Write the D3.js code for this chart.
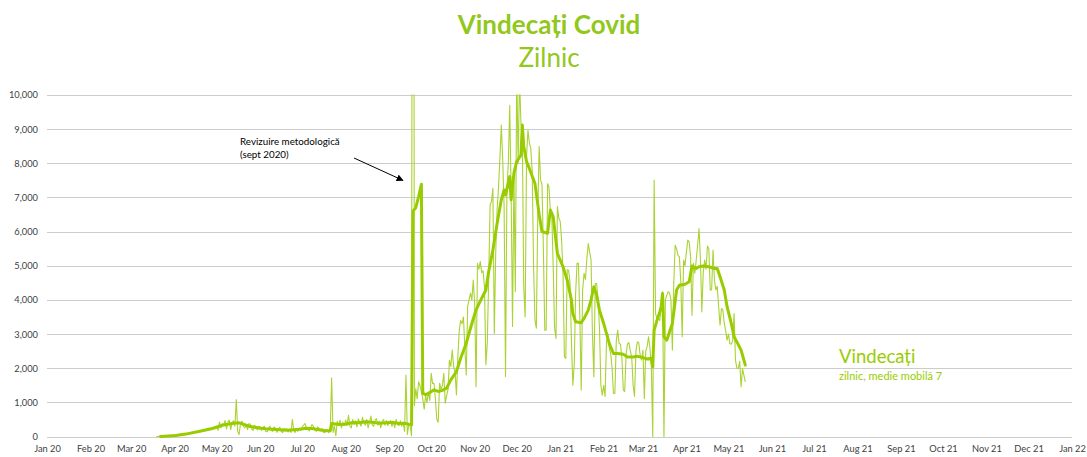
<!DOCTYPE html>
<html>
<head>
<meta charset="utf-8">
<script src="https://cdn.jsdelivr.net/npm/d3@7"></script>
<style>
  body { margin: 0; background: #fff; }
  svg { display: block; font-family: Lato, "Open Sans", sans-serif; }
</style>
</head>
<body>
<svg id="chart" width="1087" height="457"></svg>
<script>
// ---------------- DATA ----------------
const titleText = "Vindecați Covid";
const subtitleText = "Zilnic";
const legendTitle = "Vindecați";
const legendSubtitle = "zilnic, medie mobilă 7";
const noteLines = ["Revizuire metodologică", "(sept 2020)"];

// x axis: month ticks from Jan 20 to Jan 22
const axisStart = "2020-01-01";
const axisEnd = "2022-01-01";
// y axis ticks
const yTickValues = [0, 1000, 2000, 3000, 4000, 5000, 6000, 7000, 8000, 9000, 10000];

// daily recovered (thin line), one value per day starting at dailyStart
const dailyStart = "2020-03-19";
const dailyRecovered = [
  // Mar 20 (19-31)
  0,2,5,3,8,10,6,12,15,20,18,25,30,
  // Apr 20
  40,55,45,60,70,80,65,90,85,70,100,110,95,120,140,150,130,160,175,140,180,200,170,220,240,210,250,230,270,260,
  // May 20
  300,180,420,250,380,330,470,220,420,480,200,400,460,300,1080,150,60,380,450,300,250,340,200,380,350,220,180,330,280,200,300,
  // Jun 20
  280,180,260,300,150,140,250,300,180,150,280,240,120,220,270,160,110,240,200,230,130,210,120,500,170,120,230,150,250,180,
  // Jul 20
  280,330,380,250,230,160,260,350,300,200,150,280,240,160,230,130,110,200,180,110,190,1720,120,300,20,450,330,480,250,420,330,
  // Aug 20
  480,330,620,300,250,500,350,460,280,520,420,300,560,400,330,500,250,420,600,340,300,480,520,330,450,250,430,500,330,470,320,
  // Sep 20 (18 Sep: methodological revision, off the scale)
  400,460,300,430,260,500,350,320,460,300,420,150,1800,60,350,300,20,44000,900,1400,1100,1600,1500,1300,1100,800,1200,1000,1300,1050,
  // Oct 20
  1850,1550,1560,1100,500,420,1560,1370,1500,1850,975,1200,1370,2240,2050,2530,2050,1900,1220,2340,3100,3400,3300,3500,2600,1800,3800,4000,4200,4000,4580,
  // Nov 20
  3900,1460,5070,4900,5120,4800,4850,4390,2100,2730,4600,6780,6880,7270,3020,5370,6630,7300,8150,9120,8100,6730,1760,7220,8000,9700,7120,3220,7710,4240,
  // Dec 20
  10800,8000,10500,9170,8700,4400,3510,8200,8970,8600,8440,7800,5000,3400,3170,6500,8490,7500,7400,5500,3115,3120,7400,7300,6600,6500,4980,3170,2870,6730,6400,
  // Jan 21
  6300,5760,4800,2340,2290,4880,4870,4500,2800,1500,2090,4200,5070,5070,3500,1360,4290,4780,4600,5200,5650,5400,5170,3000,1750,4480,4480,3990,3200,1500,1210,
  // Feb 21
  1500,1170,2770,3000,2600,2430,2000,1260,1270,2800,3115,2720,2700,2300,1360,1320,2400,2720,2750,2500,2330,1500,1170,2500,2770,2750,2400,2240,
  // Mar 21
  2530,1110,2500,2630,2920,2600,2040,0,7510,3600,3460,3460,3400,3800,4240,0,4000,4140,4240,4200,4000,2530,4500,5600,5500,5300,5260,4530,2920,5170,5000,
  // Apr 21
  5400,5750,5700,5260,3550,5070,4780,5170,5600,6090,5200,3650,4780,5170,4900,5580,5500,4290,4300,5460,4580,4290,4400,3800,3260,3750,3700,3310,3100,2820,
  // May 21 (1-13)
  3000,2720,2700,2800,3600,2240,2000,1990,2200,1460,1990,1800,1600
];

// 7-day moving average (thick line)
const movingAvg7 = [
  ["2020-03-22",2],["2020-04-02",30],["2020-04-09",70],["2020-04-19",156],["2020-04-28",234],
  ["2020-05-05",330],["2020-05-12",380],["2020-05-17",400],["2020-05-20",360],["2020-05-24",300],["2020-05-31",250],
  ["2020-06-05",230],["2020-06-10",215],["2020-06-15",200],["2020-06-20",185],["2020-06-25",200],["2020-06-29",215],
  ["2020-07-04",240],["2020-07-08",234],["2020-07-13",200],["2020-07-18",166],
  ["2020-07-21",170],["2020-07-22",380],["2020-07-27",350],["2020-08-01",360],["2020-08-06",410],["2020-08-11",400],
  ["2020-08-15",430],["2020-08-20",420],["2020-08-25",390],["2020-08-30",400],["2020-09-03",420],["2020-09-08",380],
  ["2020-09-12",390],["2020-09-17",340],["2020-09-18",6600],
  ["2020-09-20",6700],["2020-09-22",7020],["2020-09-24",7385],["2020-09-25",1270],["2020-09-27",1220],
  ["2020-09-30",1290],["2020-10-03",1365],["2020-10-06",1320],["2020-10-09",1350],["2020-10-12",1415],
  ["2020-10-15",1660],["2020-10-19",1900],["2020-10-22",2290],["2020-10-26",2730],["2020-10-29",3170],
  ["2020-11-02",3710],["2020-11-06",4050],["2020-11-09",4290],["2020-11-11",4830],["2020-11-14",5460],
  ["2020-11-17",6240],["2020-11-20",6930],["2020-11-22",7220],["2020-11-23",7070],["2020-11-26",7610],
  ["2020-11-27",6930],["2020-11-29",7710],["2020-12-01",8050],["2020-12-04",8240],["2020-12-05",9120],
  ["2020-12-06",8490],["2020-12-08",8050],["2020-12-10",7850],["2020-12-14",7410],["2020-12-17",6500],
  ["2020-12-19",6000],["2020-12-23",5950],["2020-12-25",6630],["2020-12-27",6440],["2020-12-30",5360],
  ["2021-01-03",4970],["2021-01-06",4580],["2021-01-09",4000],["2021-01-10",3600],["2021-01-12",3360],
  ["2021-01-16",3330],["2021-01-18",3460],["2021-01-21",3700],["2021-01-23",4000],["2021-01-25",4385],
  ["2021-01-27",4140],["2021-01-29",3700],["2021-02-01",3310],["2021-02-03",3020],["2021-02-05",2720],
  ["2021-02-08",2430],["2021-02-11",2430],["2021-02-15",2410],["2021-02-18",2330],["2021-02-22",2330],
  ["2021-02-25",2350],["2021-03-01",2310],["2021-03-04",2270],["2021-03-07",2290],["2021-03-08",2040],
  ["2021-03-09",3115],["2021-03-11",3400],["2021-03-13",3650],["2021-03-14",3800],["2021-03-15",4190],
  ["2021-03-16",2920],["2021-03-18",2820],["2021-03-20",3070],["2021-03-22",3310],["2021-03-25",4290],
  ["2021-03-27",4430],["2021-03-31",4460],["2021-04-03",4530],["2021-04-05",4990],["2021-04-08",4920],
  ["2021-04-10",4970],["2021-04-13",4990],["2021-04-17",4970],["2021-04-21",4920],["2021-04-23",4920],
  ["2021-04-25",4680],["2021-04-28",4290],["2021-04-30",3800],["2021-05-03",3310],["2021-05-05",2920],
  ["2021-05-07",2770],["2021-05-10",2530],["2021-05-12",2240],["2021-05-13",2090]
];

// annotation target (date, value) for the arrow
const noteTarget = ["2020-09-18", 7500];

// ---------------- CHART ----------------
const parse = d3.utcParse("%Y-%m-%d");
const svg = d3.select("#chart");
const green = "#99cc00";
const thinGreen = "#a9d232";
const titleGreen = "#92c71c";
const axisText = "#404040";

const plot = { left: 47, right: 1072, top: 95, bottom: 436.5 };

const x = d3.scaleUtc().domain([parse(axisStart), parse(axisEnd)]).range([plot.left, plot.right]);
const y = d3.scaleLinear().domain([0, 10000]).range([plot.bottom, plot.top]);

const crisp = v => Math.round(v) + 0.5;

// gridlines
svg.append("g").selectAll("line").data(yTickValues).join("line")
  .attr("x1", plot.left).attr("x2", plot.right)
  .attr("y1", d => crisp(y(d))).attr("y2", d => crisp(y(d)))
  .attr("stroke", "#cccccc").attr("stroke-width", 1);

// y axis labels
const yAxis = d3.axisLeft(y).tickValues(yTickValues).tickFormat(d3.format(",")).tickSize(0).tickPadding(0);
const gy = svg.append("g").attr("transform", `translate(${plot.left - 9},0)`).call(yAxis);
gy.select(".domain").remove();
gy.selectAll("text").attr("fill", axisText).attr("font-size", 9.3).attr("font-family", "Lato, sans-serif");

// x axis labels
const monthTicks = d3.utcMonth.range(parse(axisStart), d3.utcDay.offset(parse(axisEnd), 1));
const xAxis = d3.axisBottom(x).tickValues(monthTicks).tickFormat(d3.utcFormat("%b %y")).tickSize(0).tickPadding(0);
const gx = svg.append("g").attr("transform", `translate(0,${plot.bottom + 9})`).call(xAxis);
gx.select(".domain").remove();
gx.selectAll("text").attr("fill", axisText).attr("font-size", 9.3).attr("font-family", "Lato, sans-serif");

// clip
svg.append("defs").append("clipPath").attr("id", "plotClip")
  .append("rect").attr("x", plot.left).attr("y", plot.top - 0.5)
  .attr("width", plot.right - plot.left).attr("height", plot.bottom - plot.top + 2);

const start = parse(dailyStart);
const daily = dailyRecovered.map((v, i) => ({ date: d3.utcDay.offset(start, i), value: v }));
const avg = movingAvg7.map(([d, v]) => ({ date: parse(d), value: v }));

const line = d3.line().x(d => x(d.date)).y(d => y(d.value));

svg.append("path").datum(daily)
  .attr("clip-path", "url(#plotClip)")
  .attr("d", line).attr("fill", "none")
  .attr("stroke", thinGreen).attr("stroke-width", 1.1).attr("stroke-linejoin", "round");

svg.append("path").datum(avg)
  .attr("clip-path", "url(#plotClip)")
  .attr("d", line).attr("fill", "none")
  .attr("stroke", green).attr("stroke-width", 3).attr("stroke-linejoin", "round").attr("stroke-linecap", "round");

// title
svg.append("text").attr("x", 549).attr("y", 34).attr("text-anchor", "middle")
  .attr("font-size", 26).attr("font-weight", "bold").attr("fill", titleGreen).text(titleText);
svg.append("text").attr("x", 549).attr("y", 67).attr("text-anchor", "middle")
  .attr("font-size", 26).attr("fill", titleGreen).text(subtitleText);

// legend
svg.append("text").attr("x", 839).attr("y", 363).attr("font-size", 18.5).attr("fill", green).text(legendTitle);
svg.append("text").attr("x", 839).attr("y", 380).attr("font-size", 11).attr("fill", green).text(legendSubtitle);

// annotation
const note = svg.append("text").attr("x", 240).attr("y", 145).attr("font-size", 9.8).attr("fill", "#000");
note.selectAll("tspan").data(noteLines).join("tspan")
  .attr("x", 240).attr("dy", (d, i) => i === 0 ? 0 : 12.5).text(d => d);

svg.select("defs").append("marker").attr("id", "arrow")
  .attr("viewBox", "0 0 10 10").attr("refX", 9).attr("refY", 5)
  .attr("markerWidth", 7).attr("markerHeight", 7).attr("markerUnits", "userSpaceOnUse")
  .attr("orient", "auto")
  .append("path").attr("d", "M0,0 L10,5 L0,10 z").attr("fill", "#000");

const tx = x(parse(noteTarget[0])) - 10;
const ty = y(noteTarget[1]);
svg.append("line").attr("x1", 354).attr("y1", 158).attr("x2", tx).attr("y2", ty)
  .attr("stroke", "#000").attr("stroke-width", 1).attr("marker-end", "url(#arrow)");
</script>
</body>
</html>
